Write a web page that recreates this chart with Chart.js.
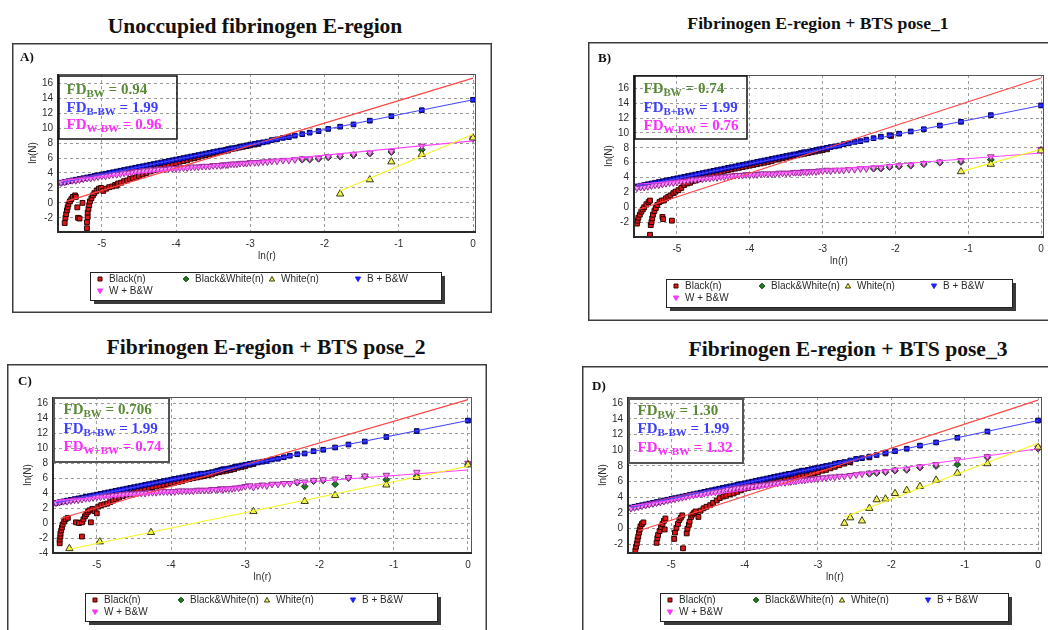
<!DOCTYPE html>
<html>
<head>
<meta charset="utf-8">
<script src="https://cdn.jsdelivr.net/npm/chart.js@4/dist/chart.umd.min.js"></script>
<style>
  body { margin:0; width:1048px; height:630px; overflow:hidden; position:relative; background:#fff; }
  .title { position:absolute; font-family:"Liberation Serif","Times New Roman",serif; font-weight:bold;
           white-space:nowrap; transform:translateX(-50%); color:#111; line-height:1; }
  .panel { position:absolute; }
  .panel canvas { display:block; }
</style>
</head>
<body>
<div class="title" style="left:255px;top:16px;font-size:21.5px">Unoccupied fibrinogen E-region</div>
<div class="title" style="left:818px;top:15px;font-size:17.7px">Fibrinogen E-region + BTS pose_1</div>
<div class="title" style="left:266px;top:337px;font-size:21.6px">Fibrinogen E-region + BTS pose_2</div>
<div class="title" style="left:848px;top:339px;font-size:21.6px">Fibrinogen E-region + BTS pose_3</div>

<div class="panel" style="left:12px;top:43px;width:480px;height:270px"><canvas id="pA"></canvas></div>
<div class="panel" style="left:588px;top:42px;width:462px;height:279px"><canvas id="pB"></canvas></div>
<div class="panel" style="left:7px;top:364px;width:480px;height:268px"><canvas id="pC"></canvas></div>
<div class="panel" style="left:582px;top:366px;width:468px;height:266px"><canvas id="pD"></canvas></div>

<script>
// ln(r) values of the box sizes shared by the B + B&W and W + B&W series
const lnR = [0, -0.69, -1.10, -1.39, -1.61, -1.79, -1.95, -2.08, -2.20, -2.30,
  -2.40, -2.48, -2.56, -2.64, -2.71, -2.77, -2.83, -2.89, -2.94, -3.00,
  -3.05, -3.09, -3.14, -3.18, -3.22, -3.26, -3.30, -3.33, -3.37, -3.40,
  -3.45, -3.50, -3.55, -3.60, -3.65, -3.70, -3.75, -3.80, -3.85, -3.90,
  -3.95, -4.00, -4.05, -4.10, -4.15, -4.20, -4.25, -4.30, -4.35, -4.40,
  -4.45, -4.50, -4.55, -4.60, -4.65, -4.70, -4.75, -4.80, -4.85, -4.90,
  -4.95, -5.00, -5.05, -5.10, -5.15, -5.20, -5.25, -5.30, -5.35, -5.40,
  -5.45, -5.50, -5.55];

const xTicks = [-5, -4, -3, -2, -1, 0];
const yTicks = [-2, 0, 2, 4, 6, 8, 10, 12, 14, 16];
const yTicksC = [-4, -2, 0, 2, 4, 6, 8, 10, 12, 14, 16];
const seriesNames = ['Black(n)', 'Black&White(n)', 'White(n)', 'B + B&W', 'W + B&W'];

// ---------- A) unoccupied ----------
const blueA = [13.8, 12.4, 11.6, 11.0, 10.5, 10.2, 9.9, 9.6, 9.4, 9.2, 9.0, 8.8, 8.7, 8.5, 8.4, 8.2, 8.1, 8.0, 7.9, 7.8,
  7.7, 7.6, 7.5, 7.4, 7.3, 7.3, 7.2, 7.1, 7.0, 7.0,
  6.9, 6.8, 6.7, 6.6, 6.5, 6.4, 6.3, 6.2, 6.1, 6.0, 5.9, 5.8, 5.7, 5.6, 5.5, 5.4, 5.3, 5.2, 5.1, 5.0,
  4.9, 4.8, 4.7, 4.6, 4.5, 4.4, 4.3, 4.2, 4.1, 4.0, 3.9, 3.8, 3.7, 3.6, 3.5, 3.4, 3.3, 3.2, 3.1, 3.0, 2.9, 2.8, 2.7];
const magA = [8.6, 7.6, 6.9, 6.7, 6.5, 6.3, 6.2, 6.0, 5.9, 5.9, 5.8, 5.7, 5.7, 5.6, 5.6, 5.5, 5.5, 5.4, 5.4, 5.4,
  5.3, 5.3, 5.3, 5.2, 5.2, 5.2, 5.1, 5.1, 5.1, 5.0,
  5.0, 5.0, 4.9, 4.9, 4.9, 4.8, 4.8, 4.8, 4.7, 4.7, 4.7, 4.6, 4.6, 4.6, 4.5, 4.5, 4.5, 4.4, 4.4, 4.3,
  4.3, 4.2, 4.2, 4.1, 4.0, 4.0, 3.9, 3.8, 3.8, 3.7, 3.6, 3.6, 3.5, 3.4, 3.3, 3.3, 3.2, 3.1, 3.0, 3.0, 2.9, 2.8, 2.7];
const bwA = [[0, 8.6], [-0.69, 7.1], [-1.10, 6.8], [-1.39, 6.6], [-1.61, 6.4], [-1.79, 6.2], [-1.95, 6.1], [-2.08, 5.9], [-2.20, 5.8], [-2.30, 5.8]];
const whiteA = [[-1.79, 1.2], [-1.39, 3.1], [-1.10, 5.5], [-0.69, 6.5], [0, 8.7]];
const blackA = [[-5.50, -2.7], [-5.49, -2.0], [-5.48, -1.5], [-5.47, -1.0], [-5.46, -0.6], [-5.45, -0.2], [-5.43, 0.2], [-5.41, 0.5],
  [-5.39, 0.8], [-5.36, 1.0], [-5.35, 0.8], [-5.33, -0.6], [-5.32, -2.0], [-5.30, -2.1], [-5.26, 0.0],
  [-5.20, -3.4], [-5.20, -2.6], [-5.19, -1.9], [-5.19, -1.3], [-5.18, -0.8], [-5.17, -0.3], [-5.16, 0.2], [-5.14, 0.6],
  [-5.12, 1.0], [-5.10, 1.3], [-5.07, 1.6], [-5.04, 1.9], [-5.01, 2.0], [-4.98, 1.6], [-4.94, 1.9], [-4.90, 2.1],
  [-4.86, 2.2], [-4.82, 2.4], [-4.80, 2.3], [-4.78, 2.6], [-4.74, 2.7], [-4.70, 2.9], [-4.66, 3.0], [-4.62, 3.2],
  [-4.58, 3.3], [-4.54, 3.4], [-4.50, 3.6], [-4.45, 3.8], [-4.40, 4.0], [-4.35, 4.2], [-4.30, 4.4], [-4.25, 4.5],
  [-4.20, 4.7], [-4.15, 4.9], [-4.10, 5.0], [-4.05, 5.2], [-4.00, 5.3], [-3.95, 5.5], [-3.90, 5.6], [-3.85, 5.7],
  [-3.80, 5.9], [-3.75, 6.0], [-3.70, 6.1], [-3.65, 6.3], [-3.60, 6.4], [-3.55, 6.5], [-3.50, 6.6], [-3.45, 6.7],
  [-3.40, 6.8], [-3.35, 6.9], [-3.30, 7.0], [-3.25, 7.2], [-3.20, 7.3], [-3.15, 7.4], [-3.10, 7.5], [-3.05, 7.6],
  [-3.00, 7.7], [-2.94, 7.8], [-2.89, 7.9]];
const fitRedA = [[-5.48, 0.2], [0, 16.7]];
const fitBlueA = [[-5.55, 2.7], [0, 13.8]];
const fitMagA = [[-5.55, 3.0], [0, 8.3]];
const fitYelA = [[-1.79, 1.6], [0, 9.2]];
const fdA = [['BW', ' = 0.94'], ['B-BW', ' = 1.99'], ['W-BW', ' = 0.96']];

// ---------- B) pose_1 ----------
const blueB = [13.7, 12.4, 11.5, 11.0, 10.5, 10.2, 9.9, 9.7, 9.5, 9.3, 9.1, 8.9, 8.8, 8.6, 8.5, 8.3, 8.2, 8.1, 8.0, 7.9,
  7.8, 7.7, 7.6, 7.5, 7.4, 7.4, 7.3, 7.2, 7.1, 7.1,
  7.0, 6.9, 6.8, 6.7, 6.6, 6.5, 6.4, 6.3, 6.2, 6.1, 6.0, 5.9, 5.8, 5.7, 5.6, 5.5, 5.4, 5.3, 5.2, 5.1,
  5.0, 4.9, 4.8, 4.7, 4.6, 4.5, 4.4, 4.3, 4.2, 4.1, 4.0, 3.9, 3.8, 3.7, 3.6, 3.5, 3.4, 3.3, 3.2, 3.1, 3.0, 2.9, 2.8];
const magB = [7.8, 6.8, 6.3, 6.1, 5.9, 5.7, 5.6, 5.5, 5.3, 5.3, 5.2, 5.2, 5.1, 5.1, 5.0, 5.0, 5.0, 4.9, 5.0, 4.9,
  4.9, 4.8, 4.8, 4.8, 4.7, 4.8, 4.7, 4.7, 4.7, 4.7,
  4.6, 4.6, 4.6, 4.6, 4.5, 4.5, 4.5, 4.5, 4.5, 4.4, 4.4, 4.4, 4.4, 4.3, 4.3, 4.3, 4.2, 4.2, 4.1, 4.1,
  4.0, 4.0, 3.9, 3.9, 3.8, 3.8, 3.7, 3.7, 3.6, 3.5, 3.5, 3.4, 3.3, 3.3, 3.2, 3.1, 3.0, 3.0, 2.9, 2.8, 2.7, 2.7, 2.6];
const bwB = [[0, 7.7], [-0.69, 6.4], [-1.10, 6.1], [-1.39, 6.0], [-1.61, 5.8], [-1.79, 5.6], [-1.95, 5.5], [-2.08, 5.4], [-2.20, 5.2], [-2.30, 5.2]];
const whiteB = [[-1.10, 4.8], [-0.69, 5.8], [0, 7.6]];
const blackB = [[-5.55, -2.2], [-5.54, -1.8], [-5.53, -1.4], [-5.51, -1.0], [-5.49, -0.6], [-5.47, -0.3], [-5.45, 0.0],
  [-5.42, 0.4], [-5.39, 0.7], [-5.37, 0.9], [-5.37, -3.7], [-5.36, -2.4], [-5.35, -2.0], [-5.34, -1.5], [-5.33, -1.0],
  [-5.31, -0.5], [-5.29, -0.1], [-5.27, 0.3], [-5.24, 0.7], [-5.21, 0.9], [-5.20, -1.3], [-5.19, -1.6], [-5.18, 0.9],
  [-5.15, 1.2], [-5.12, 1.4], [-5.09, 1.6], [-5.07, -1.8], [-5.05, 1.9], [-5.02, 2.1], [-4.98, 2.3], [-4.94, 2.6],
  [-4.90, 3.0], [-4.86, 3.2], [-4.82, 3.3], [-4.78, 3.5], [-4.74, 3.6], [-4.70, 3.8], [-4.65, 4.0], [-4.60, 4.1],
  [-4.55, 4.3], [-4.50, 4.4], [-4.45, 4.6], [-4.40, 4.7], [-4.35, 4.9], [-4.30, 5.0], [-4.25, 5.1], [-4.20, 5.2],
  [-4.15, 5.3], [-4.10, 5.4], [-4.05, 5.5], [-4.00, 5.6], [-3.95, 5.7], [-3.90, 5.8], [-3.85, 5.9], [-3.80, 6.0],
  [-3.75, 6.1], [-3.70, 6.2], [-3.65, 6.4], [-3.60, 6.5], [-3.55, 6.6], [-3.50, 6.7], [-3.45, 6.8], [-3.40, 6.9],
  [-3.35, 7.0], [-3.30, 7.1], [-3.25, 7.2], [-3.20, 7.3], [-3.15, 7.4], [-3.10, 7.5], [-3.05, 7.6], [-3.00, 7.7],
  [-2.94, 7.8], [-2.06, 9.6]];
const fitRedB = [[-5.53, -0.3], [0, 17.4]];
const fitBlueB = [[-5.55, 2.8], [0, 13.7]];
const fitMagB = [[-5.55, 3.1], [0, 7.3]];
const fitYelB = [[-1.10, 4.8], [0, 7.8]];
const fdB = [['BW', ' = 0.74'], ['B+BW', ' = 1.99'], ['W-BW', ' = 0.76']];

// ---------- C) pose_2 ----------
const blueC = [13.7, 12.3, 11.5, 10.9, 10.5, 10.1, 9.8, 9.6, 9.3, 9.2, 9.0, 8.8, 8.6, 8.5, 8.3, 8.2, 8.1, 8.0, 7.9, 7.8,
  7.7, 7.6, 7.5, 7.4, 7.3, 7.2, 7.2, 7.1, 7.0, 6.9,
  6.8, 6.7, 6.6, 6.6, 6.5, 6.4, 6.3, 6.2, 6.1, 6.0, 5.9, 5.8, 5.7, 5.6, 5.5, 5.4, 5.3, 5.2, 5.1, 5.0,
  4.9, 4.8, 4.7, 4.6, 4.5, 4.4, 4.3, 4.2, 4.1, 4.0, 3.9, 3.8, 3.7, 3.6, 3.5, 3.4, 3.3, 3.2, 3.1, 3.0, 2.9, 2.8, 2.7];
const magC = [8.0, 6.8, 6.4, 6.3, 6.1, 5.9, 5.8, 5.7, 5.5, 5.5, 5.3, 5.3, 5.2, 5.2, 5.0, 5.1, 5.0, 4.8, 5.0, 4.9,
  4.8, 4.7, 4.7, 4.6, 4.6, 4.6, 4.5, 4.6, 4.5, 4.5,
  4.5, 4.4, 4.4, 4.4, 4.4, 4.3, 4.3, 4.3, 4.3, 4.3, 4.2, 4.2, 4.2, 4.2, 4.2, 4.1, 4.1, 4.1, 4.0, 4.0,
  4.0, 3.9, 3.9, 3.9, 3.8, 3.8, 3.7, 3.7, 3.6, 3.6, 3.5, 3.5, 3.4, 3.3, 3.3, 3.2, 3.1, 3.1, 3.0, 2.9, 2.9, 2.8, 2.7];
const bwC = [[0, 7.9], [-0.69, 6.3], [-1.10, 5.8], [-1.39, 6.2], [-1.61, 6.0], [-1.79, 5.2], [-1.95, 5.7], [-2.08, 5.6], [-2.20, 4.9], [-2.30, 5.4]];
const whiteC = [[-5.37, -3.4], [-4.96, -2.5], [-4.27, -1.25], [-2.89, 1.55], [-2.20, 2.9], [-1.79, 3.7], [-1.10, 5.1], [-0.69, 6.1], [0, 7.8]];
const blackC = [[-5.50, -2.7], [-5.50, -2.2], [-5.49, -1.8], [-5.49, -1.4], [-5.48, -1.0], [-5.47, -0.6], [-5.46, -0.2],
  [-5.44, 0.2], [-5.42, 0.5], [-5.39, 0.7], [-5.28, 0.1], [-5.24, 0.0], [-5.20, -1.8], [-5.20, 0.1], [-5.18, 0.5],
  [-5.16, 0.9], [-5.14, 1.2], [-5.12, 1.5], [-5.10, 1.7], [-5.08, 0.1], [-5.06, 1.9], [-5.03, 1.6], [-5.00, 1.3],
  [-4.98, 2.2], [-4.94, 2.4], [-4.90, 2.5], [-4.86, 2.6], [-4.82, 2.8], [-4.78, 3.0], [-4.74, 3.2], [-4.70, 3.4],
  [-4.65, 3.6], [-4.60, 3.8], [-4.55, 3.9], [-4.50, 4.1], [-4.45, 4.3], [-4.40, 4.4], [-4.35, 4.6], [-4.30, 4.7],
  [-4.25, 4.8], [-4.20, 4.9], [-4.15, 5.0], [-4.10, 5.1], [-4.05, 5.2], [-4.00, 5.3], [-3.95, 5.4], [-3.90, 5.5],
  [-3.85, 5.6], [-3.80, 5.8], [-3.75, 5.9], [-3.70, 6.0], [-3.65, 6.1], [-3.60, 6.2], [-3.55, 6.3], [-3.50, 6.4],
  [-3.45, 6.5], [-3.40, 6.7], [-3.35, 6.8], [-3.30, 6.9], [-3.25, 7.0], [-3.20, 7.1], [-3.15, 7.2], [-3.10, 7.4],
  [-3.05, 7.5], [-3.00, 7.6], [-2.94, 7.8], [-2.89, 7.9]];
const fitRedC = [[-5.49, 0.6], [0, 16.5]];
const fitBlueC = [[-5.55, 2.7], [0, 13.7]];
const fitMagC = [[-5.55, 3.0], [0, 7.1]];
const fitYelC = [[-5.37, -3.5], [0, 7.6]];
const fdC = [['BW', ' = 0.706'], ['B+BW', ' = 1.99'], ['W+BW', ' = 0.74']];

// ---------- D) pose_3 ----------
const blueD = [13.8, 12.4, 11.6, 11.0, 10.6, 10.2, 9.9, 9.7, 9.4, 9.2, 9.0, 8.9, 8.7, 8.5, 8.4, 8.3, 8.1, 8.0, 7.9, 7.8,
  7.7, 7.6, 7.5, 7.4, 7.4, 7.3, 7.2, 7.1, 7.0, 7.0,
  6.9, 6.8, 6.7, 6.6, 6.5, 6.4, 6.3, 6.2, 6.1, 6.0, 5.9, 5.8, 5.7, 5.6, 5.5, 5.4, 5.3, 5.2, 5.1, 5.0,
  4.9, 4.8, 4.7, 4.6, 4.5, 4.4, 4.3, 4.2, 4.1, 4.0, 3.9, 3.8, 3.7, 3.6, 3.5, 3.4, 3.3, 3.2, 3.1, 3.0, 2.9, 2.8, 2.7];
const magD = [10.3, 9.2, 8.8, 8.2, 7.9, 7.6, 7.5, 7.3, 7.2, 7.1, 7.0, 6.9, 6.8, 6.7, 6.7, 6.6, 6.6, 6.5, 6.5, 6.4,
  6.4, 6.3, 6.3, 6.2, 6.2, 6.2, 6.1, 6.1, 6.0, 6.0,
  5.9, 5.9, 5.8, 5.8, 5.7, 5.6, 5.6, 5.5, 5.5, 5.4, 5.4, 5.3, 5.2, 5.2, 5.1, 5.0, 5.0, 4.9, 4.8, 4.7,
  4.7, 4.6, 4.5, 4.4, 4.4, 4.3, 4.2, 4.1, 4.0, 3.9, 3.8, 3.7, 3.6, 3.5, 3.4, 3.3, 3.2, 3.1, 3.0, 2.9, 2.8, 2.7, 2.6];
const bwD = [[0, 10.2], [-0.69, 9.1], [-1.10, 8.2], [-1.39, 8.0], [-1.61, 7.8], [-1.79, 7.5], [-1.95, 7.4], [-2.08, 7.2], [-2.20, 7.1], [-2.30, 7.0]];
const whiteD = [[-2.64, 0.7], [-2.56, 1.4], [-2.40, 1.0], [-2.30, 2.6], [-2.20, 3.7], [-2.08, 3.8], [-1.95, 4.5],
  [-1.79, 4.9], [-1.61, 5.4], [-1.39, 6.2], [-1.10, 7.1], [-0.69, 8.3], [0, 10.4]];
const blackD = [[-5.49, -2.8], [-5.48, -2.3], [-5.47, -1.9], [-5.46, -1.4], [-5.45, -1.0], [-5.44, -0.5], [-5.43, -0.1],
  [-5.42, 0.3], [-5.40, 0.6], [-5.38, 0.8], [-5.20, -1.8], [-5.19, -1.2], [-5.18, -0.8], [-5.16, -0.3], [-5.14, 0.2],
  [-5.12, 0.6], [-5.10, 1.0], [-5.08, 1.3], [-5.09, -0.1], [-4.96, -1.3], [-4.95, -0.5], [-4.93, 0.1], [-4.91, 0.6],
  [-4.89, 1.1], [-4.87, 1.4], [-4.85, 1.7], [-4.84, -2.5], [-4.79, -0.6], [-4.78, 0.0], [-4.76, 0.5], [-4.75, 0.9],
  [-4.73, 1.5], [-4.71, 1.8], [-4.69, 2.0], [-4.67, 2.2], [-4.63, 1.5], [-4.60, 2.3], [-4.56, 2.6], [-4.52, 2.8],
  [-4.47, 3.0], [-4.43, 3.3], [-4.38, 3.6], [-4.34, 3.9], [-4.29, 4.1], [-4.25, 4.2], [-4.20, 4.4], [-4.15, 4.5],
  [-4.10, 4.7], [-4.05, 4.9], [-4.00, 5.1], [-3.95, 5.2], [-3.90, 5.3], [-3.85, 5.4], [-3.80, 5.5], [-3.75, 5.6],
  [-3.70, 5.7], [-3.65, 5.8], [-3.60, 5.9], [-3.55, 6.0], [-3.50, 6.1], [-3.45, 6.2], [-3.40, 6.3], [-3.35, 6.5],
  [-3.30, 6.6], [-3.25, 6.7], [-3.20, 6.8], [-3.15, 6.9], [-3.10, 7.0], [-3.05, 7.1], [-3.00, 7.2], [-2.94, 7.4],
  [-2.89, 7.5], [-2.83, 7.7], [-2.77, 7.9], [-2.71, 8.1], [-2.64, 8.3], [-2.56, 8.5], [-2.30, 9.1], [-2.08, 9.6]];
const fitRedD = [[-5.45, -0.3], [0, 16.4]];
const fitBlueD = [[-5.55, 2.7], [0, 13.8]];
const fitMagD = [[-5.55, 2.9], [0, 10.2]];
const fitYelD = [[-2.64, 1.5], [0, 10.9]];
const fdD = [['BW', ' = 1.30'], ['B-BW', ' = 1.99'], ['W-BW', ' = 1.32']];

// ---------- helpers ----------
const onGrid = ys => ys.map((y, i) => ({ x: lnR[i], y }));
const fromPairs = ps => ps.map(([x, y]) => ({ x, y }));
const SANS = '"Liberation Sans", Arial, sans-serif';
const SERIF = '"Liberation Serif", "Times New Roman", serif';
const FD_COLORS = ['#5b8a36', '#3f3fff', '#ff2cff'];

function pointSet(label, data, style, order, legendMark) {
  return Object.assign({ label, data, order, showLine: false, legendMark }, style);
}
function lineSet(data, color, order) {
  return { label: '', data, order, showLine: true, pointRadius: 0, borderColor: color, borderWidth: 1.1, fill: false };
}

const ST = {
  black: { pointStyle: 'rect', pointRadius: 3.4, backgroundColor: '#e01414', borderColor: '#2a0303', borderWidth: 1 },
  bw:    { pointStyle: 'rectRot', pointRadius: 3.4, backgroundColor: '#1e7a1e', borderColor: '#0b3d0b', borderWidth: 1 },
  white: { pointStyle: 'triangle', pointRadius: 4.2, backgroundColor: '#f3f35a', borderColor: '#3d3d10', borderWidth: 1 },
  bpbw:  { pointStyle: 'rect', pointRadius: 3.3, backgroundColor: '#1c1cff', borderColor: '#00005a', borderWidth: 1 },
  wpbw:  { pointStyle: 'triangle', pointRotation: 180, pointRadius: 3.8, backgroundColor: '#ff8cff', borderColor: '#9a2a9a', borderWidth: 1 }
};
const LEGEND_MARKS = {
  rect: ['rect', '#e01414', '#3a0505'],
  diamond: ['rectRot', '#1e7a1e', '#0b3d0b'],
  tri: ['triUp', '#f3f35a', '#3d3d10'],
  blueTri: ['triDown', '#1c1cff', '#1c1cff'],
  magTri: ['triDown', '#ff33ff', '#ff33ff']
};

function mark(c, shape, x, y, r, fill, stroke) {
  c.beginPath();
  if (shape === 'rect') c.rect(x - r, y - r, 2 * r, 2 * r);
  else if (shape === 'rectRot') { c.moveTo(x, y - r * 1.4); c.lineTo(x + r * 1.4, y); c.lineTo(x, y + r * 1.4); c.lineTo(x - r * 1.4, y); c.closePath(); }
  else if (shape === 'triUp') { c.moveTo(x, y - r * 1.3); c.lineTo(x + r * 1.3, y + r); c.lineTo(x - r * 1.3, y + r); c.closePath(); }
  else { c.moveTo(x - r * 1.3, y - r); c.lineTo(x + r * 1.3, y - r); c.lineTo(x, y + r * 1.3); c.closePath(); }
  c.fillStyle = fill; c.fill();
  c.strokeStyle = stroke; c.lineWidth = 1; c.stroke();
}

// panel frame, letter, FD annotation box and the boxed legend
const panelDecor = {
  id: 'panelDecor',
  beforeDraw(chart, args, o) {
    const c = chart.ctx, w = chart.width, h = chart.height;
    c.save();
    c.fillStyle = '#fff'; c.fillRect(0, 0, w, h);
    c.strokeStyle = '#3c3c3c'; c.lineWidth = 1.5; c.strokeRect(0.75, 0.75, w - 1.5, h - 1.5);
    c.fillStyle = '#111'; c.font = 'bold 13px ' + SERIF; c.textBaseline = 'alphabetic';
    c.fillText(o.letter, o.letterPos[0], o.letterPos[1]);
    c.restore();
  },
  afterDraw(chart, args, o) {
    const a = chart.chartArea, c = chart.ctx;
    c.save();
    // plot frame
    c.strokeStyle = '#555'; c.lineWidth = 1;
    c.strokeRect(a.left + 0.5, a.top + 0.5, a.right - a.left - 1, a.bottom - a.top - 1);
    c.strokeStyle = '#2a2a2a'; c.lineWidth = 2;
    c.beginPath(); c.moveTo(a.left, a.top); c.lineTo(a.left, a.bottom); c.lineTo(a.right, a.bottom); c.stroke();

    // FD box
    const [bx, by, bw, bh] = o.fdBox;
    c.strokeStyle = o.fdBorder; c.lineWidth = o.fdBorderW;
    c.strokeRect(a.left + bx, a.top + by, bw, bh);
    c.textBaseline = 'alphabetic';
    o.fd.forEach((ln, i) => {
      let x = a.left + o.fdText[0];
      const y = a.top + o.fdText[1 + i];
      c.fillStyle = FD_COLORS[i];
      c.font = 'bold 15px ' + SERIF; c.fillText('FD', x, y); x += c.measureText('FD').width;
      c.font = 'bold 11px ' + SERIF; c.fillText(ln[0], x, y + 3); x += c.measureText(ln[0]).width;
      c.font = 'bold 15px ' + SERIF; c.fillText(ln[1], x, y);
    });

    // legend box with drop shadow
    const lx = a.left + 32, ly = a.bottom + o.legTop, lw = o.legW, lh = 28;
    c.fillStyle = '#3a3a3a'; c.fillRect(lx + 4, ly + 4, lw, lh);
    c.fillStyle = '#fff'; c.fillRect(lx, ly, lw, lh);
    c.strokeStyle = '#222'; c.lineWidth = 1; c.strokeRect(lx + 0.5, ly + 0.5, lw, lh);
    const items = chart.data.datasets.filter(d => d.legendMark);
    const slots = [[10, 7], [96, 7], [182, 7], [268, 7], [10, 19]];
    c.font = '10px ' + SANS; c.textBaseline = 'middle';
    items.forEach((d, i) => {
      const [sx, sy] = slots[i];
      const m = LEGEND_MARKS[d.legendMark];
      mark(c, m[0], lx + sx, ly + sy, 2, m[1], m[2]);
      c.fillStyle = '#2a2a2a';
      c.fillText(d.label, lx + sx + 9, ly + sy + 0.5);
    });
    c.restore();
  }
};

function makePanel(id, p) {
  const datasets = [
    pointSet(seriesNames[0], fromPairs(p.black), ST.black, 9, 'rect'),
    pointSet(seriesNames[1], fromPairs(p.bw), ST.bw, 8, 'diamond'),
    pointSet(seriesNames[2], fromPairs(p.white), ST.white, 5, 'tri'),
    pointSet(seriesNames[3], onGrid(p.blue), ST.bpbw, 7, 'blueTri'),
    pointSet(seriesNames[4], onGrid(p.mag), ST.wpbw, 6, 'magTri'),
    lineSet(fromPairs(p.fitRed), '#ff4545', 4),
    lineSet(fromPairs(p.fitBlue), '#4747ff', 3),
    lineSet(fromPairs(p.fitMag), '#ff45ff', 2),
    lineSet(fromPairs(p.fitYel), '#f6f620', 1)
  ];
  const tickFont = { family: SANS, size: 10 };
  new Chart(document.getElementById(id), {
    type: 'scatter',
    data: { datasets },
    plugins: [panelDecor],
    options: {
      responsive: true, maintainAspectRatio: false, animation: false,
      layout: { padding: p.pad },
      plugins: {
        legend: { display: false }, tooltip: { enabled: false },
        panelDecor: {
          letter: p.letter, letterPos: p.letterPos, fd: p.fd, fdBox: p.fdBox, fdText: p.fdText,
          fdBorder: p.fdBorder, fdBorderW: p.fdBorderW, legTop: p.legTop, legW: p.legW
        }
      },
      scales: {
        x: {
          type: 'linear', min: -5.59, max: p.xMax,
          afterBuildTicks: s => { s.ticks = xTicks.map(v => ({ value: v })); },
          afterFit: s => { s.height = 30; },
          grid: { color: '#9c9c9c', lineWidth: 1, drawTicks: false },
          border: { display: false, dash: [3, 3] },
          ticks: { font: tickFont, color: '#2d2d2d', padding: 6 },
          title: { display: true, text: 'ln(r)', font: tickFont, color: '#2d2d2d', padding: 0 }
        },
        y: {
          type: 'linear', min: p.yMin, max: p.yMax,
          afterBuildTicks: s => { s.ticks = p.yTicks.map(v => ({ value: v })); },
          afterFit: s => { s.width = 31; },
          grid: { color: '#9c9c9c', lineWidth: 1, drawTicks: false },
          border: { display: false, dash: [3, 3] },
          ticks: { font: tickFont, color: '#2d2d2d', padding: 5 },
          title: { display: true, text: 'ln(N)', font: tickFont, color: '#2d2d2d', padding: 0 }
        }
      }
    }
  });
}

makePanel('pA', {
  black: blackA, bw: bwA, white: whiteA, blue: blueA, mag: magA,
  fitRed: fitRedA, fitBlue: fitBlueA, fitMag: fitMagA, fitYel: fitYelA, fd: fdA,
  yMin: -3.9, yMax: 17.25, xMax: 0.04, yTicks: yTicks,
  pad: { left: 15, right: 16, top: 31, bottom: 51 },
  letter: 'A)', letterPos: [8, 18],
  fdBox: [1, 2, 118, 63], fdText: [8.5, 20, 38, 55], fdBorder: '#111', fdBorderW: 1.5,
  legTop: 40, legW: 351
});
makePanel('pB', {
  black: blackB, bw: bwB, white: whiteB, blue: blueB, mag: magB,
  fitRed: fitRedB, fitBlue: fitBlueB, fitMag: fitMagB, fitYel: fitYelB, fd: fdB,
  yMin: -4.0, yMax: 17.8, xMax: 0.04, yTicks: yTicks,
  pad: { left: 15, right: 6, top: 33, bottom: 54 },
  letter: 'B)', letterPos: [10, 20],
  fdBox: [1, 1, 112, 63], fdText: [9.5, 18, 37, 55], fdBorder: '#111', fdBorderW: 1.5,
  legTop: 42, legW: 346
});
makePanel('pC', {
  black: blackC, bw: bwC, white: whiteC, blue: blueC, mag: magC,
  fitRed: fitRedC, fitBlue: fitBlueC, fitMag: fitMagC, fitYel: fitYelC, fd: fdC,
  yMin: -4.0, yMax: 16.85, xMax: 0.054, yTicks: yTicksC,
  pad: { left: 15, right: 15, top: 33, bottom: 49 },
  letter: 'C)', letterPos: [11, 21],
  fdBox: [1, 1, 115, 64], fdText: [10.5, 17, 36, 54], fdBorder: '#555', fdBorderW: 2,
  legTop: 40, legW: 352
});
makePanel('pD', {
  black: blackD, bw: bwD, white: whiteD, blue: blueD, mag: magD,
  fitRed: fitRedD, fitBlue: fitBlueD, fitMag: fitMagD, fitYel: fitYelD, fd: fdD,
  yMin: -3.1, yMax: 16.8, xMax: 0.054, yTicks: yTicks,
  pad: { left: 15, right: 8, top: 31, bottom: 49 },
  letter: 'D)', letterPos: [10, 24],
  fdBox: [1, 2, 114, 64], fdText: [9.5, 18, 36, 55], fdBorder: '#555', fdBorderW: 2,
  legTop: 40, legW: 348
});
</script>
</body>
</html>
